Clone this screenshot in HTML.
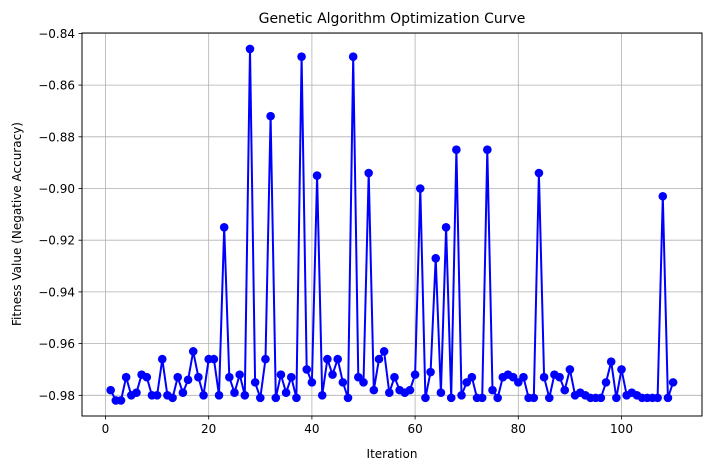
<!DOCTYPE html>
<html><head><style>
body{margin:0;background:#fff;}
svg text{font-family:"DejaVu Sans","Liberation Sans",sans-serif;fill:#000;}
</style></head><body>
<svg id="s" width="711" height="470" xmlns="http://www.w3.org/2000/svg">
<rect width="711" height="470" fill="#fff"/>
<g id="grid" stroke="#b0b0b0" stroke-width="0.8"></g>
<g id="ticks" stroke="#000" stroke-width="0.8"></g>
<g id="labels" font-size="12"></g>
<polyline id="line" fill="none" stroke="#0000ff" stroke-width="2"/>
<g id="dots" fill="#0000ff"></g>
<rect x="82" y="33" width="620" height="383" fill="none" stroke="#000" stroke-width="1"/>
<text x="392" y="23" font-size="14" text-anchor="middle">Genetic Algorithm Optimization Curve</text>
<text x="392" y="458" font-size="12" text-anchor="middle">Iteration</text>
<text transform="translate(21,224) rotate(-90)" font-size="12" text-anchor="middle">Fitness Value (Negative Accuracy)</text>
</svg>
<script>
var v=[-0.978,-0.982,-0.982,-0.973,-0.980,-0.979,-0.972,-0.973,-0.980,-0.980,-0.966,-0.980,-0.981,-0.973,-0.979,-0.974,-0.963,-0.973,-0.980,-0.966,-0.966,-0.980,-0.915,-0.973,-0.979,-0.972,-0.980,-0.846,-0.975,-0.981,-0.966,-0.872,-0.981,-0.972,-0.979,-0.973,-0.981,-0.849,-0.970,-0.975,-0.895,-0.980,-0.966,-0.972,-0.966,-0.975,-0.981,-0.849,-0.973,-0.975,-0.894,-0.978,-0.966,-0.963,-0.979,-0.973,-0.978,-0.979,-0.978,-0.972,-0.900,-0.981,-0.971,-0.927,-0.979,-0.915,-0.981,-0.885,-0.980,-0.975,-0.973,-0.981,-0.981,-0.885,-0.978,-0.981,-0.973,-0.972,-0.973,-0.975,-0.973,-0.981,-0.981,-0.894,-0.973,-0.981,-0.972,-0.973,-0.978,-0.970,-0.980,-0.979,-0.980,-0.981,-0.981,-0.981,-0.975,-0.967,-0.981,-0.970,-0.980,-0.979,-0.980,-0.981,-0.981,-0.981,-0.981,-0.903,-0.981,-0.975];
function X(i){return 105.5+5.16*i;}
function Y(y){return 395.3-(y+0.98)*2585;}
var NS="http://www.w3.org/2000/svg";
function el(p,n,a,t){var e=document.createElementNS(NS,n);for(var k in a)e.setAttribute(k,a[k]);if(t)e.textContent=t;document.getElementById(p).appendChild(e);}
for(var i=0;i<=100;i+=20){var x=X(i);el("grid","line",{x1:x,x2:x,y1:33,y2:416});el("ticks","line",{x1:x,x2:x,y1:416,y2:419.5});el("labels","text",{x:x,y:433,"text-anchor":"middle"},String(i));}
for(var j=0;j<=7;j++){var yv=-0.98+0.02*j;var y=Y(yv);el("grid","line",{x1:82,x2:702,y1:y,y2:y});el("ticks","line",{x1:78.5,x2:82,y1:y,y2:y});el("labels","text",{x:75,y:y+4.5,"text-anchor":"end"},"\u2212"+(-yv).toFixed(2));}
var pts=[];for(var i=0;i<v.length;i++){var x=X(i+1),y=Y(v[i]);pts.push(x.toFixed(1)+","+y.toFixed(1));el("dots","circle",{cx:x,cy:y,r:4.3});}
document.getElementById("line").setAttribute("points",pts.join(" "));
</script>
</body></html>
